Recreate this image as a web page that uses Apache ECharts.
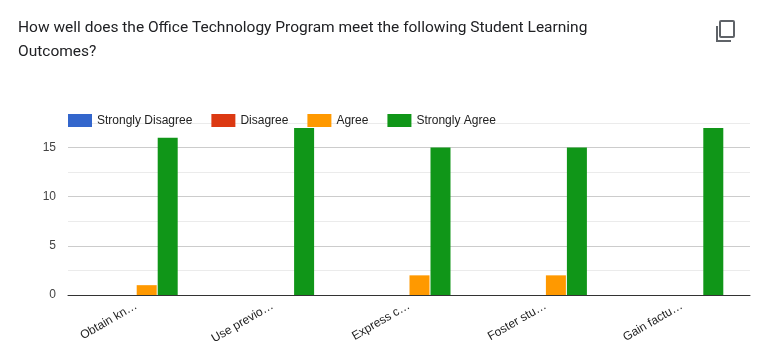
<!DOCTYPE html>
<html>
<head>
<meta charset="utf-8">
<script src="https://cdn.jsdelivr.net/npm/echarts@6/dist/echarts.min.js"></script>
<style>
    html, body { margin: 0; padding: 0; background: #fff; }
    #chart { width: 758px; height: 358px; }
</style>
</head>
<body>
<div id="chart"></div>
<script>
    const questionLines = [
        'How well does the Office Technology Program meet the following Student Learning',
        'Outcomes?'
    ]
    const categories = ['Obtain kn…', 'Use previo…', 'Express c…', 'Foster stu…', 'Gain factu…']
    const stronglyDisagree = [0, 0, 0, 0, 0]
    const disagree = [0, 0, 0, 0, 0]
    const agree = [1, 0, 2, 2, 0]
    const stronglyAgree = [16, 17, 15, 15, 17]

    const barSeries = (name, data, color) => ({
        name,
        type: 'bar',
        data,
        barWidth: 20,
        barGap: '5%',
        itemStyle: { color }
    })

    const chart = echarts.init(document.getElementById('chart'), null, { renderer: 'canvas' })
    chart.setOption({
        animation: false,
        title: {
            text: questionLines.join('\n'),
            left: 18,
            top: 16,
            padding: 0,
            textStyle: {
                fontFamily: 'Roboto',
                fontSize: 15.5,
                fontWeight: 400,
                color: '#202124',
                lineHeight: 24
            }
        },
        legend: {
            left: 68,
            top: 114,
            padding: 0,
            itemWidth: 24,
            itemHeight: 13,
            itemGap: 19,
            icon: 'rect',
            textStyle: { fontFamily: 'Liberation Sans', fontSize: 12, color: '#222' }
        },
        grid: { left: 68, right: 8, top: 123, bottom: 63 },
        xAxis: {
            type: 'category',
            data: categories,
            axisTick: { show: false },
            axisLine: { lineStyle: { color: '#333', width: 1 } },
            axisLabel: {
                interval: 0,
                rotate: 30,
                margin: 10,
                fontFamily: 'Liberation Sans',
                fontSize: 12,
                color: '#222'
            }
        },
        yAxis: {
            type: 'value',
            min: 0,
            max: 17.5,
            interval: 2.5,
            axisLine: { show: false },
            axisTick: { show: false },
            splitLine: { lineStyle: { color: ['#ccc', '#ebebeb'], width: 1 } },
            axisLabel: {
                margin: 12,
                fontFamily: 'Liberation Sans',
                fontSize: 12,
                color: '#444',
                formatter: v => (v % 5 === 0 ? String(v) : '')
            }
        },
        series: [
            barSeries('Strongly Disagree', stronglyDisagree, '#3366cc'),
            barSeries('Disagree', disagree, '#dc3912'),
            barSeries('Agree', agree, '#ff9900'),
            barSeries('Strongly Agree', stronglyAgree, '#109618')
        ],
        graphic: [
            // copy icon, top right
            {
                type: 'rect',
                shape: { x: 720, y: 21, width: 14, height: 16, r: 1 },
                style: { fill: 'none', stroke: '#5f6368', lineWidth: 2 }
            },
            {
                type: 'polyline',
                shape: { points: [[717, 26], [717, 41], [731, 41]] },
                style: { fill: 'none', stroke: '#5f6368', lineWidth: 2 }
            }
        ]
    })
</script>
</body>
</html>
